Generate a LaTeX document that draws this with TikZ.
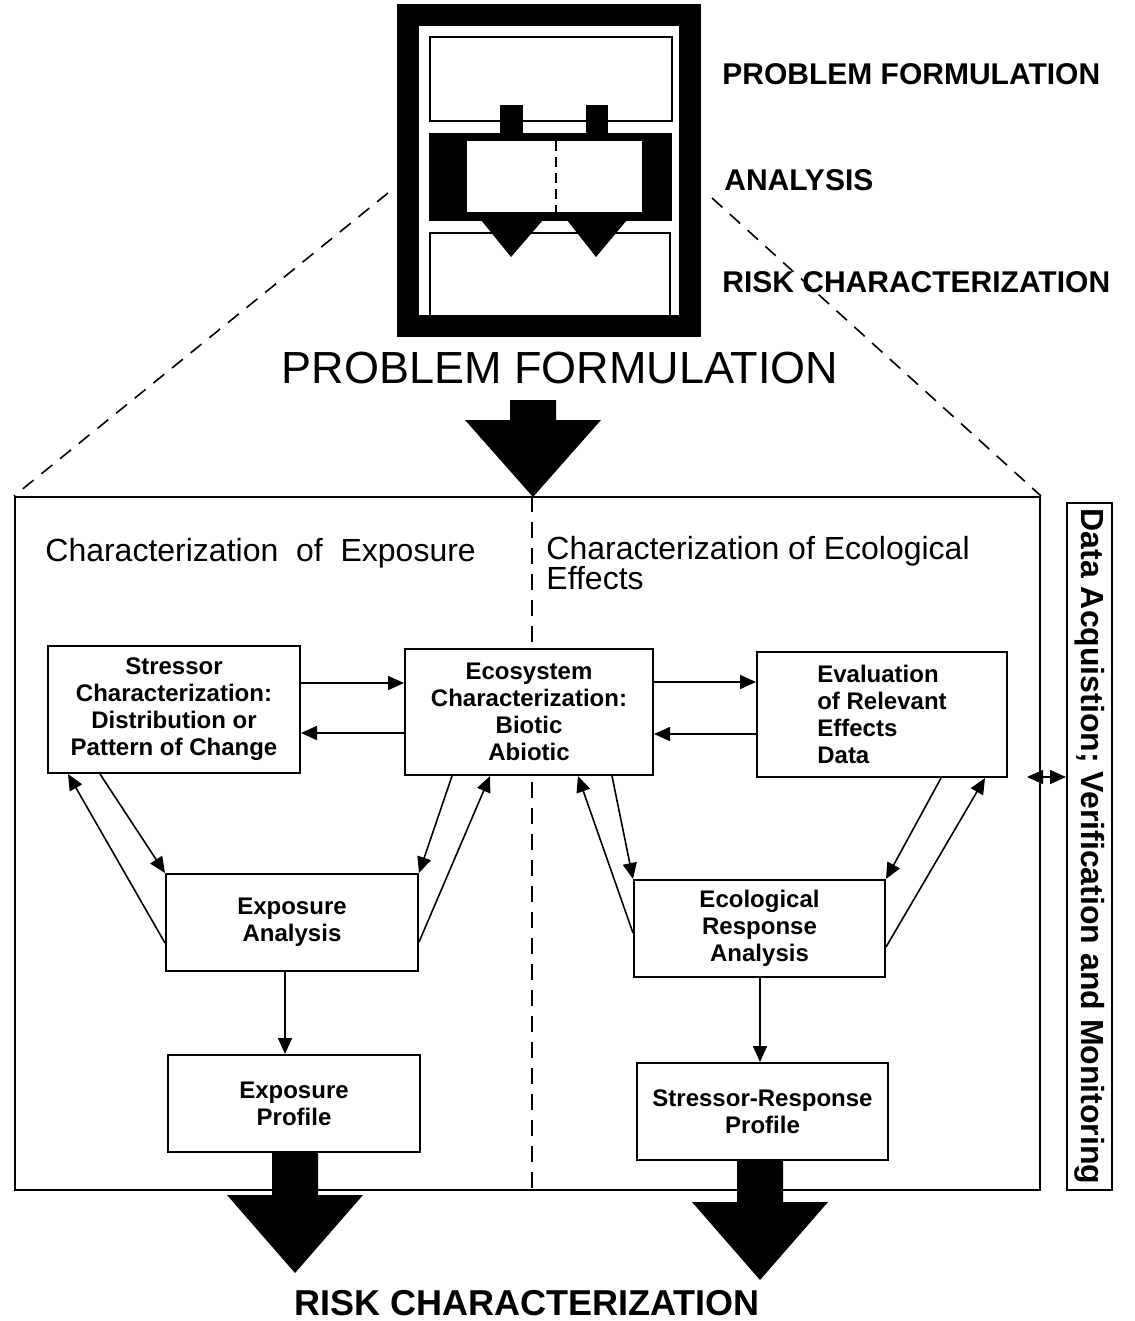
\documentclass[tikz,border=0pt]{standalone}
\usepackage{fontspec}
\setmainfont{Liberation Sans}
\usetikzlibrary{arrows.meta}
\tikzstyle{procbox}=[draw=black,fill=white,line width=1pt,inner sep=0pt,
                     align=center,font=\fontsize{12}{13.5}\selectfont\bfseries]
\tikzstyle{conn}=[line width=0.8pt,-{Triangle[length=8pt,width=7pt]}]
\tikzstyle{twoway}=[line width=0.8pt,
                    {Triangle[length=8pt,width=7pt]}-{Triangle[length=8pt,width=7pt]}]
\tikzstyle{zoomline}=[line width=0.8pt,dash pattern=on 7pt off 5pt]
\tikzstyle{steplabel}=[anchor=west,inner sep=0pt,
                       font=\fontsize{15}{18}\selectfont\bfseries]

\begin{document}
\begin{tikzpicture}[x=0.5pt,y=-0.5pt]
    \newcommand{\bigarrow}[4]{\fill (#1-23,#2) -- (#1+23,#2) -- (#1+23,#3)
      -- (#1+68,#3) -- (#1,#4) -- (#1-68,#3) -- (#1-23,#3) -- cycle;}
    \useasboundingbox (0,0) rectangle (1134,1321);
    % icon of the three phases
    \draw[line width=11pt] (408,15) rectangle (690,326);
    \draw[line width=1pt] (430,37) rectangle (672,121);
    \draw[line width=1pt] (430,233) rectangle (670,316);
    \fill (429,133) rectangle (672,221);
    \fill[white] (467,141) rectangle (642,212);
    \draw[line width=1pt,dash pattern=on 5pt off 3pt] (556,141) -- (556,212);
    \fill (500,105) rectangle (523,134);
    \fill (586,105) rectangle (608,134);
    \fill (481,220) -- (543,220) -- (511,257) -- cycle;
    \fill (567,220) -- (627,220) -- (596,257) -- cycle;
    \node[steplabel] (lpf) at (722,74) {PROBLEM FORMULATION};
    \node[steplabel] (lan) at (724,180) {ANALYSIS};
    \node[steplabel] (lrc) at (722,282) {RISK CHARACTERIZATION};
    \node[font=\fontsize{22.5}{27}\selectfont] (pftitle) at (560,368)
      {PROBLEM FORMULATION};
    % analysis frame
    \node[draw,line width=1pt,inner sep=0pt,minimum width=512.5pt,
          minimum height=346.5pt] (assess) at (527.5,843.5) {};
    \coordinate (iconL) at (388,193);
    \coordinate (iconR) at (712,198);
    \draw[zoomline] (iconL) -- (assess.north west);
    \draw[zoomline] (iconR) -- (assess.north east);
    \draw[line width=0.8pt,dash pattern=on 8pt off 5pt]
      (assess.north -| 532,0) -- (assess.south -| 532,0);
    \bigarrow{533}{400}{420}{497}
    \node[anchor=west,inner sep=0pt,font=\fontsize{16}{15}\selectfont]
      (hexp) at (45,553) {Characterization\ \ of\ \ Exposure};
    \node[anchor=north west,inner sep=0pt,align=left,
          font=\fontsize{16}{15}\selectfont]
      (heco) at (546,536) {Characterization of Ecological\\Effects};
    % boxes
    \node[procbox,minimum width=126pt,minimum height=63.5pt] (stress)
      at (174,709.5) {Stressor\\Characterization:\\Distribution or\\Pattern of Change};
    \node[procbox,minimum width=124pt,minimum height=63pt] (ecosys)
      at (529,712) {Ecosystem\\Characterization:\\Biotic\\Abiotic};
    \node[procbox,minimum width=125pt,minimum height=62.5pt,align=left] (evalfx)
      at (882,714.5) {Evaluation\\of Relevant\\Effects\\Data};
    \node[procbox,minimum width=126pt,minimum height=48.5pt] (expan)
      at (292,922.5) {Exposure\\Analysis};
    \node[procbox,minimum width=125.5pt,minimum height=48.5pt] (ecoresp)
      at (759.5,928.5) {Ecological\\Response\\Analysis};
    \node[procbox,minimum width=126pt,minimum height=48.5pt] (expprof)
      at (294,1103.5) {Exposure\\Profile};
    \node[procbox,minimum width=125.5pt,minimum height=48.5pt] (srprof)
      at (762.5,1111.5) {Stressor-Response\\Profile};
    % connectors
    \draw[conn] (stress.east |- 0,683) -- (ecosys.west |- 0,683);
    \draw[conn] (ecosys.west |- 0,733) -- (stress.east |- 0,733);
    \draw[conn] (ecosys.east |- 0,682) -- (evalfx.west |- 0,682);
    \draw[conn] (evalfx.west |- 0,734) -- (ecosys.east |- 0,734);
    \draw[conn] (expan.west |- 0,943) -- (stress.south -| 68,0);
    \draw[conn] (stress.south -| 100,0) -- (expan.north west);
    \draw[conn] (ecosys.south -| 452,0) -- (expan.north east);
    \draw[conn] (expan.east |- 0,942) -- (ecosys.south -| 490,0);
    \draw[conn] (ecoresp.west |- 0,933) -- (ecosys.south -| 578,0);
    \draw[conn] (ecosys.south -| 612,0) -- (ecoresp.north west);
    \draw[conn] (evalfx.south -| 941,0) -- (ecoresp.north east);
    \draw[conn] (ecoresp.east |- 0,947) -- (evalfx.south -| 985,0);
    \draw[conn] (expan.south -| 285,0) -- (expprof.north -| 285,0);
    \draw[conn] (ecoresp.south -| 760,0) -- (srprof.north -| 760,0);
    % into risk characterization
    \bigarrow{295}{1152}{1195}{1273}
    \bigarrow{760}{1160}{1202}{1280}
    \node[font=\fontsize{18}{21}\selectfont\bfseries] (riskc) at (527,1303)
      {RISK CHARACTERIZATION};
    % side bar
    \node[draw,line width=1pt,rotate=-90,inner sep=0pt,minimum width=343.5pt,
          minimum height=22.5pt,font=\fontsize{16}{18}\selectfont\bfseries]
      (datamon) at (1089.5,846.5) {Data Acquistion; Verification and Monitoring};
    \coordinate (dmstub) at (1027,777);
    \draw[twoway] (dmstub) -- (datamon.south |- 0,777);
  \end{tikzpicture}
\end{document}
